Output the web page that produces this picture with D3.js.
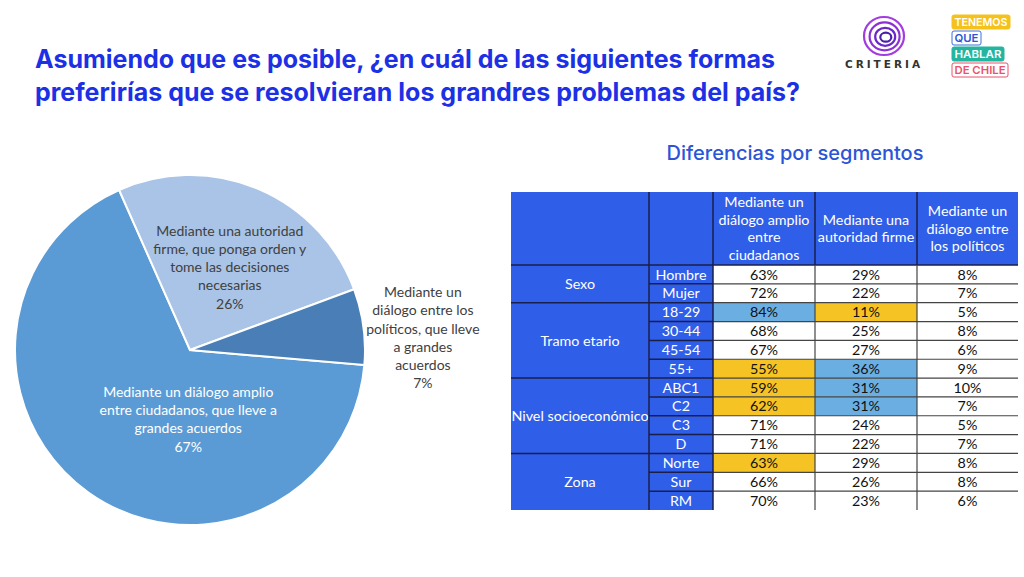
<!DOCTYPE html>
<html>
<head>
<meta charset="utf-8">
<script src="https://cdn.jsdelivr.net/npm/d3@7"></script>
<style>
  html, body { margin: 0; padding: 0; background: #ffffff; }
  svg { display: block; }
</style>
</head>
<body>
<svg id="chart" width="1024" height="577"></svg>
<script>
// ---------------- DATA ----------------
const titleLines = [
  "Asumiendo que es posible, ¿en cuál de las siguientes formas",
  "preferirías que se resolvieran los grandres problemas del país?"
];
const categories = [
  "Mediante un diálogo amplio entre ciudadanos, que lleve a grandes acuerdos",
  "Mediante una autoridad firme, que ponga orden y tome las decisiones necesarias",
  "Mediante un diálogo entre los políticos, que lleve a grandes acuerdos"
];
const values = [67, 26, 7];
const pieLabelLines = [
  ["Mediante un diálogo amplio", "entre ciudadanos, que lleve a", "grandes acuerdos"],
  ["Mediante una autoridad", "firme, que ponga orden y", "tome las decisiones", "necesarias"],
  ["Mediante un", "diálogo entre los", "políticos, que lleve", "a grandes", "acuerdos"]
];

const tableTitle = "Diferencias por segmentos";
const colHeaders = [
  ["Mediante un", "diálogo amplio", "entre", "ciudadanos"],
  ["Mediante una", "autoridad firme"],
  ["Mediante un", "diálogo entre", "los políticos"]
];
const segmentGroups = ["Sexo", "Tramo etario", "Nivel socioeconómico", "Zona"];
const groupSizes = [2, 4, 4, 3];
const segments = ["Hombre", "Mujer", "18-29", "30-44", "45-54", "55+", "ABC1", "C2", "C3", "D", "Norte", "Sur", "RM"];
const ciudadanos = [63, 72, 84, 68, 67, 55, 59, 62, 71, 71, 63, 66, 70];
const autoridad  = [29, 22, 11, 25, 27, 36, 31, 31, 24, 22, 29, 26, 23];
const politicos  = [8, 7, 5, 8, 6, 9, 10, 7, 5, 7, 8, 8, 6];
// highlight flags: "hi" = over (blue), "lo" = under (yellow)
const ciudadanosMark = ["", "", "hi", "", "", "lo", "lo", "lo", "", "", "lo", "", ""];
const autoridadMark  = ["", "", "lo", "", "", "hi", "hi", "hi", "", "", "", "", ""];
const politicosMark  = ["", "", "", "", "", "", "", "", "", "", "", "", ""];

// ---------------- SETUP ----------------
const svg = d3.select("#chart");
const FONT = "Lato, 'Open Sans', sans-serif";
const TITLE_FONT = "Inter, Lato, sans-serif";

// Title
svg.append("g").selectAll("text").data(titleLines).join("text")
  .attr("x", 35)
  .attr("y", (d, i) => 68 + i * 33)
  .attr("font-family", TITLE_FONT)
  .attr("font-weight", 700)
  .attr("font-size", 25)
  .attr("fill", "#1c30e6")
  .attr("textLength", (d, i) => i === 0 ? 740 : 765)
  .attr("lengthAdjust", "spacingAndGlyphs")
  .text(d => d);

// ---------------- PIE ----------------
const cx = 190, cy = 350, R = 175;
const pieColors = ["#5b9bd5", "#a9c4e6", "#4a7eb6"];
const pieTextColors = ["#ffffff", "#404040", "#404040"];
const startDeg = 94.9;
const pie = d3.pie().sort(null).value(d => d)
  .startAngle(startDeg * Math.PI / 180)
  .endAngle(startDeg * Math.PI / 180 + 2 * Math.PI);
const arcs = pie(values);
const arc = d3.arc().innerRadius(0).outerRadius(R);
const gPie = svg.append("g").attr("transform", `translate(${cx},${cy})`);
gPie.selectAll("path").data(arcs).join("path")
  .attr("d", arc)
  .attr("fill", (d, i) => pieColors[i])
  .attr("stroke", "#ffffff")
  .attr("stroke-width", 2);

// label placement (radius of centroid arc, extra nudges)
const labelRadius = [84, 92, 233];
const labelNudge = [[47, 1], [4, 2], [2, 19]];
const lineH = 18.3;
arcs.forEach((a, i) => {
  const la = d3.arc().innerRadius(labelRadius[i]).outerRadius(labelRadius[i]);
  const [px, py] = la.centroid(a);
  const lines = pieLabelLines[i].concat([values[i] + "%"]);
  const x0 = px + labelNudge[i][0];
  const y0 = py + labelNudge[i][1] - (lines.length - 1) * lineH / 2;
  const t = gPie.append("text")
    .attr("font-family", FONT)
    .attr("font-size", 14)
    .attr("fill", pieTextColors[i])
    .attr("text-anchor", "middle");
  lines.forEach((ln, k) => {
    t.append("tspan").attr("x", x0).attr("y", y0 + k * lineH).attr("dy", "0.35em").text(ln);
  });
});

// ---------------- TABLE ----------------
svg.append("text")
  .attr("x", 795).attr("y", 160)
  .attr("text-anchor", "middle")
  .attr("font-family", TITLE_FONT)
  .attr("font-weight", 500)
  .attr("font-size", 20)
  .attr("fill", "#2a55d8")
  .text(tableTitle);

const colEdges = [511, 649, 713, 815, 917, 1018];
const headTop = 192, headBottom = 265, tableBottom = 510;
const blue = "#2f5ee8";
const yellow = "#f6c324";
const lightBlue = "#6aaee2";
const navy = "#1a1f4a";
const grey = "#444444";
const CELL_FS = 14.3;

const yRow = d3.scaleBand().domain(d3.range(segments.length)).range([headBottom, tableBottom]).padding(0);
const rh = yRow.bandwidth();
const gT = svg.append("g");

// header background
gT.append("rect").attr("x", colEdges[0]).attr("y", headTop)
  .attr("width", colEdges[5] - colEdges[0]).attr("height", headBottom - headTop).attr("fill", blue);
// left two columns background
gT.append("rect").attr("x", colEdges[0]).attr("y", headBottom)
  .attr("width", colEdges[2] - colEdges[0]).attr("height", tableBottom - headBottom).attr("fill", blue);

// header text
colHeaders.forEach((lines, c) => {
  const xm = (colEdges[c + 2] + colEdges[c + 3]) / 2;
  const ym = (headTop + headBottom) / 2;
  const lh = 17.5;
  const t = gT.append("text").attr("font-family", FONT).attr("font-size", CELL_FS)
    .attr("fill", "#ffffff").attr("text-anchor", "middle");
  lines.forEach((ln, k) => {
    t.append("tspan").attr("x", xm).attr("y", ym + (k - (lines.length - 1) / 2) * lh).attr("dy", "0.35em").text(ln);
  });
});

// data cells
const dataCols = [ciudadanos, autoridad, politicos];
const marks = [ciudadanosMark, autoridadMark, politicosMark];
dataCols.forEach((vals, c) => {
  const x0 = colEdges[c + 2], x1 = colEdges[c + 3];
  vals.forEach((v, r) => {
    const m = marks[c][r];
    if (m) {
      gT.append("rect").attr("x", x0).attr("y", yRow(r)).attr("width", x1 - x0).attr("height", rh)
        .attr("fill", m === "hi" ? lightBlue : yellow);
    }
    gT.append("text").attr("x", (x0 + x1) / 2).attr("y", yRow(r) + rh / 2).attr("dy", "0.36em")
      .attr("text-anchor", "middle").attr("font-family", FONT).attr("font-size", CELL_FS)
      .attr("fill", "#111111").text(v + "%");
  });
});

// segment labels
segments.forEach((s, r) => {
  gT.append("text").attr("x", (colEdges[1] + colEdges[2]) / 2).attr("y", yRow(r) + rh / 2).attr("dy", "0.36em")
    .attr("text-anchor", "middle").attr("font-family", FONT).attr("font-size", CELL_FS)
    .attr("fill", "#ffffff").text(s);
});

// group labels + group boundaries
const groupStarts = groupSizes.map((n, i) => d3.sum(groupSizes.slice(0, i)));
segmentGroups.forEach((g, i) => {
  const r0 = groupStarts[i], r1 = r0 + groupSizes[i];
  const y0 = yRow(r0), y1 = r1 < segments.length ? yRow(r1) : tableBottom;
  gT.append("text").attr("x", (colEdges[0] + colEdges[1]) / 2).attr("y", (y0 + y1) / 2).attr("dy", "0.36em")
    .attr("text-anchor", "middle").attr("font-family", FONT).attr("font-size", CELL_FS)
    .attr("fill", "#ffffff").text(g);
});

// horizontal lines
for (let r = 1; r < segments.length; r++) {
  const y = yRow(r);
  const isGroup = groupStarts.includes(r);
  gT.append("line").attr("x1", isGroup ? colEdges[0] : colEdges[1]).attr("x2", colEdges[2])
    .attr("y1", y).attr("y2", y).attr("stroke", navy).attr("stroke-width", 1.5);
  gT.append("line").attr("x1", colEdges[2]).attr("x2", colEdges[5])
    .attr("y1", y).attr("y2", y).attr("stroke", grey).attr("stroke-width", 1.2);
}
// header bottom line
gT.append("line").attr("x1", colEdges[0]).attr("x2", colEdges[5])
  .attr("y1", headBottom).attr("y2", headBottom).attr("stroke", navy).attr("stroke-width", 1.5);
// vertical lines
[1, 2].forEach(c => {
  gT.append("line").attr("x1", colEdges[c]).attr("x2", colEdges[c])
    .attr("y1", headTop).attr("y2", tableBottom).attr("stroke", navy).attr("stroke-width", 1.5);
});
[3, 4].forEach(c => {
  gT.append("line").attr("x1", colEdges[c]).attr("x2", colEdges[c])
    .attr("y1", headTop).attr("y2", headBottom).attr("stroke", navy).attr("stroke-width", 1.5);
  gT.append("line").attr("x1", colEdges[c]).attr("x2", colEdges[c])
    .attr("y1", headBottom).attr("y2", tableBottom).attr("stroke", grey).attr("stroke-width", 1.2);
});

// ---------------- LOGOS ----------------
const gLogo = svg.append("g");
// Criteria spiral
const spiral = [[20, 19, "#a23be0"], [15, 14, "#8c2fd6"], [10, 9, "#6a28c8"], [5.5, 4.5, "#4a1fa8"]];
spiral.forEach(([rx, ry, col], i) => {
  gLogo.append("ellipse").attr("cx", 884 + i * 0.6).attr("cy", 36 + i * 0.4).attr("rx", rx).attr("ry", ry)
    .attr("fill", "none").attr("stroke", col).attr("stroke-width", 2.2);
});
gLogo.append("text").attr("x", 884).attr("y", 68).attr("text-anchor", "middle")
  .attr("font-family", "'DejaVu Sans', sans-serif").attr("font-weight", 700).attr("font-size", 10.5)
  .attr("letter-spacing", 3).attr("fill", "#333333").text("CRITERIA");

// Tenemos que hablar de Chile
const tq = [
  { t: "TENEMOS", x: 952, y: 15, w: 58, h: 14, fill: "#f5c21b", stroke: "#f5c21b", color: "#ffffff" },
  { t: "QUE", x: 952, y: 31, w: 29, h: 14, fill: "#ffffff", stroke: "#3b6fe0", color: "#2a55d8" },
  { t: "HABLAR", x: 952, y: 47, w: 52, h: 14, fill: "#22b5a0", stroke: "#22b5a0", color: "#ffffff" },
  { t: "DE CHILE", x: 952, y: 63, w: 56, h: 14, fill: "#ffffff", stroke: "#e8536b", color: "#e8536b" }
];
tq.forEach(b => {
  gLogo.append("rect").attr("x", b.x).attr("y", b.y).attr("width", b.w).attr("height", b.h)
    .attr("rx", 2).attr("fill", b.fill).attr("stroke", b.stroke).attr("stroke-width", 1);
  gLogo.append("text").attr("x", b.x + b.w / 2).attr("y", b.y + b.h / 2).attr("dy", "0.36em")
    .attr("text-anchor", "middle").attr("font-family", "Inter, sans-serif").attr("font-weight", 600)
    .attr("font-size", 11).attr("fill", b.color)
    .attr("textLength", b.w - 5).attr("lengthAdjust", "spacingAndGlyphs").text(b.t);
});
</script>
</body>
</html>
